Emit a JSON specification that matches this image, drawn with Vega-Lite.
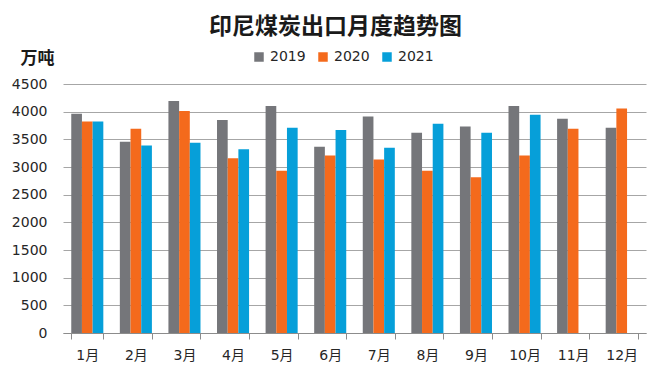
{
  "$schema": "https://vega.github.io/schema/vega-lite/v6.json",
  "autosize": {"type": "none"},
  "width": 583,
  "height": 249,
  "padding": {"left": 63, "top": 84, "right": 24, "bottom": 47},
  "background": "white",
  "title": {
    "text": "印尼煤炭出口月度趋势图",
    "font": "Noto Sans CJK SC",
    "fontSize": 23,
    "fontWeight": "bold",
    "color": "#1a1a1a",
    "anchor": "middle",
    "dx": -19,
    "offset": 10
  },
  "data": {
    "values": [
      {"month": "1月", "year": "2019", "value": 3962},
      {"month": "1月", "year": "2020", "value": 3824},
      {"month": "1月", "year": "2021", "value": 3824},
      {"month": "2月", "year": "2019", "value": 3456},
      {"month": "2月", "year": "2020", "value": 3691},
      {"month": "2月", "year": "2021", "value": 3390},
      {"month": "3月", "year": "2019", "value": 4192},
      {"month": "3月", "year": "2020", "value": 4011},
      {"month": "3月", "year": "2021", "value": 3438},
      {"month": "4月", "year": "2019", "value": 3848},
      {"month": "4月", "year": "2020", "value": 3160},
      {"month": "4月", "year": "2021", "value": 3323},
      {"month": "5月", "year": "2019", "value": 4101},
      {"month": "5月", "year": "2020", "value": 2931},
      {"month": "5月", "year": "2021", "value": 3709},
      {"month": "6月", "year": "2019", "value": 3366},
      {"month": "6月", "year": "2020", "value": 3209},
      {"month": "6月", "year": "2021", "value": 3667},
      {"month": "7月", "year": "2019", "value": 3914},
      {"month": "7月", "year": "2020", "value": 3136},
      {"month": "7月", "year": "2021", "value": 3347},
      {"month": "8月", "year": "2019", "value": 3619},
      {"month": "8月", "year": "2020", "value": 2931},
      {"month": "8月", "year": "2021", "value": 3782},
      {"month": "9月", "year": "2019", "value": 3733},
      {"month": "9月", "year": "2020", "value": 2817},
      {"month": "9月", "year": "2021", "value": 3619},
      {"month": "10月", "year": "2019", "value": 4101},
      {"month": "10月", "year": "2020", "value": 3209},
      {"month": "10月", "year": "2021", "value": 3945},
      {"month": "11月", "year": "2019", "value": 3872},
      {"month": "11月", "year": "2020", "value": 3691},
      {"month": "12月", "year": "2019", "value": 3709},
      {"month": "12月", "year": "2020", "value": 4059}
    ]
  },
  "mark": {"type": "bar"},
  "encoding": {
    "x": {
      "field": "month",
      "type": "nominal",
      "sort": ["1月","2月","3月","4月","5月","6月","7月","8月","9月","10月","11月","12月"],
      "scale": {"paddingInner": 0.34, "paddingOuter": 0.17},
      "axis": {
        "title": null,
        "labelAngle": 0,
        "labelFont": "DejaVu Sans, Noto Sans CJK SC",
        "labelFontSize": 14,
        "labelColor": "#262626",
        "labelPadding": 9,
        "domainColor": "#8c8c8c",
        "tickColor": "#8c8c8c",
        "tickSize": 6,
        "tickBand": "extent",
        "grid": false
      }
    },
    "xOffset": {
      "field": "year",
      "type": "nominal",
      "scale": {"domain": ["2019", "2020", "2021"], "paddingInner": 0, "paddingOuter": 0}
    },
    "y": {
      "field": "value",
      "type": "quantitative",
      "scale": {"domain": [0, 4500], "nice": false},
      "axis": {
        "values": [0, 500, 1000, 1500, 2000, 2500, 3000, 3500, 4000, 4500],
        "format": "d",
        "title": "万吨",
        "titleAngle": 0,
        "titleFont": "Noto Sans CJK SC",
        "titleFontSize": 17,
        "titleFontWeight": "bold",
        "titleColor": "#1a1a1a",
        "titleAlign": "center",
        "titleBaseline": "middle",
        "titleX": -26,
        "titleY": -26,
        "labelFont": "DejaVu Sans",
        "labelFontSize": 14,
        "labelColor": "#262626",
        "labelPadding": 16,
        "domain": false,
        "ticks": false,
        "gridColor": "#a6a6a6",
        "gridWidth": 1
      }
    },
    "color": {
      "field": "year",
      "type": "nominal",
      "scale": {"domain": ["2019", "2020", "2021"], "range": ["#75767a", "#f46a1c", "#069fd9"]},
      "legend": {
        "title": null,
        "orient": "none",
        "direction": "horizontal",
        "legendX": 189,
        "legendY": -34,
        "symbolType": "square",
        "symbolSize": 90,
        "symbolStrokeWidth": 0,
        "labelFont": "DejaVu Sans",
        "labelFontSize": 14,
        "labelColor": "#262626",
        "labelOffset": 4,
        "columnPadding": 10
      }
    }
  },
  "config": {
    "view": {"stroke": null}
  }
}
